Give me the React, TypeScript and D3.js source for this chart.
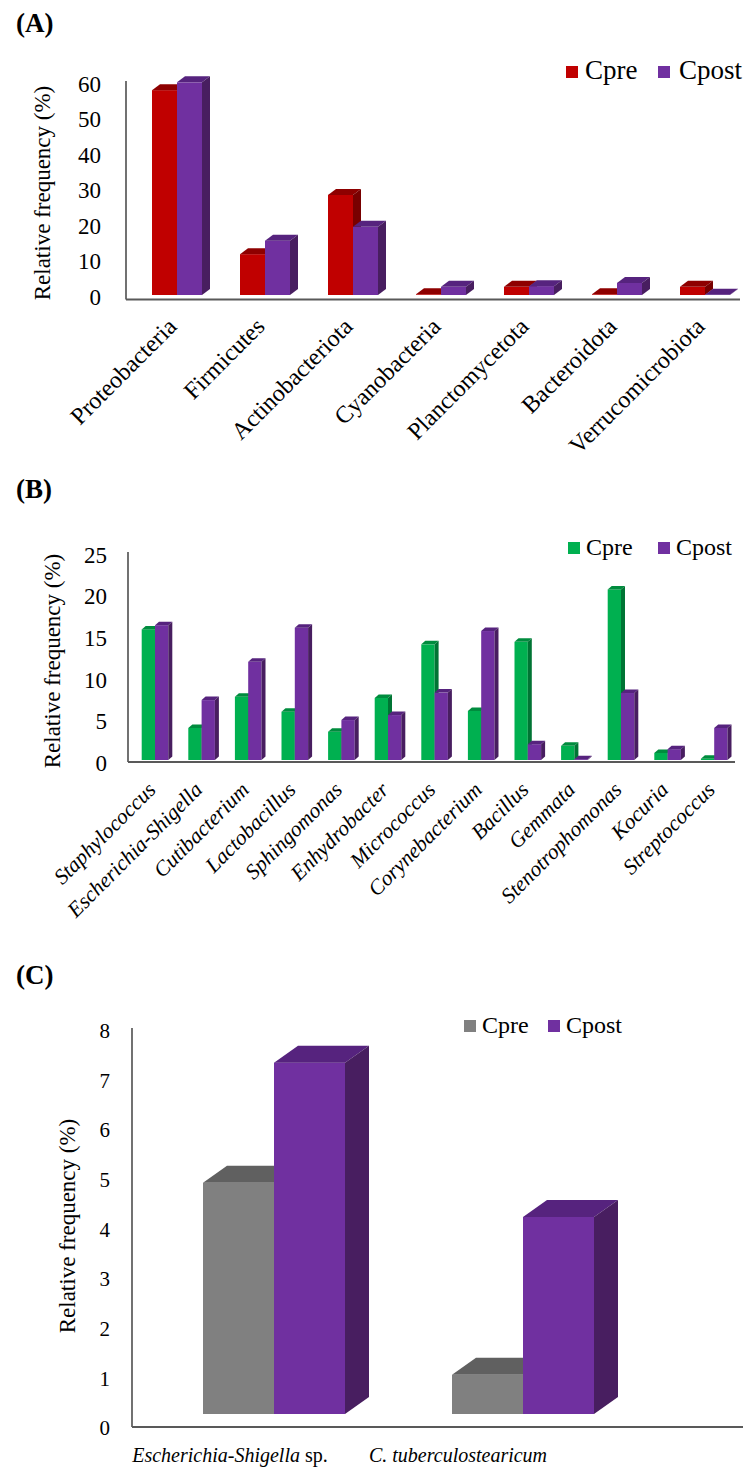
import React from 'react';
import * as d3 from 'd3';

// ---------- DATA ----------
const seriesNames = ['Cpre', 'Cpost'];

const phylaCategories = ['Proteobacteria', 'Firmicutes', 'Actinobacteriota', 'Cyanobacteria', 'Planctomycetota', 'Bacteroidota', 'Verrucomicrobiota'];
const phylaCpre = [57.7, 11.5, 28.2, 0.2, 2.3, 0.2, 2.3];
const phylaCpost = [59.9, 15.3, 19.2, 2.3, 2.5, 3.4, 0.1];
const phylaTicks = [0, 10, 20, 30, 40, 50, 60];

const generaCategories = ['Staphylococcus', 'Escherichia-Shigella', 'Cutibacterium', 'Lactobacillus', 'Sphingomonas', 'Enhydrobacter', 'Micrococcus', 'Corynebacterium', 'Bacillus', 'Gemmata', 'Stenotrophomonas', 'Kocuria', 'Streptococcus'];
const generaCpre = [15.7, 3.85, 7.6, 5.8, 3.4, 7.45, 13.9, 5.9, 14.2, 1.7, 20.5, 0.85, 0.15];
const generaCpost = [16.2, 7.2, 11.8, 15.9, 4.8, 5.4, 8.1, 15.5, 1.9, 0.1, 8.05, 1.3, 3.85];
const generaTicks = [0, 5, 10, 15, 20, 25];

const speciesCategories = ['Escherichia-Shigella sp.', 'C. tuberculostearicum'];
const speciesCpre = [4.66, 0.79];
const speciesCpost = [7.08, 3.97];
const speciesTicks = [0, 1, 2, 3, 4, 5, 6, 7, 8];

// ---------- STYLE ----------
const FONT = 'Liberation Serif, DejaVu Serif, serif';
const PURPLE = { front: '#7030A0', top: '#56237E', side: '#481E60' };
const RED = { front: '#C00000', top: '#8E0000', side: '#780000' };
const GREEN = { front: '#00B050', top: '#008C3E', side: '#007434' };
const GRAY = { front: '#808080', top: '#606060', side: '#555555' };

type Shade = { front: string; top: string; side: string };

function Bar3D({ x, w, yTop, yBase, dx, dy, c }: { x: number; w: number; yTop: number; yBase: number; dx: number; dy: number; c: Shade }) {
  const t = Math.min(yTop, yBase);
  return (
    <g>
      {yBase - t > 0 && <rect x={x} y={t} width={w} height={yBase - t} fill={c.front} />}
      <polygon points={`${x},${t} ${x + dx},${t + dy} ${x + w + dx},${t + dy} ${x + w},${t}`} fill={c.top} />
      <polygon points={`${x + w},${t} ${x + w + dx},${t + dy} ${x + w + dx},${yBase + dy} ${x + w},${yBase}`} fill={c.side} />
    </g>
  );
}

function CatLabel({ name, x, y, size, rotate, italic }: any) {
  const spIdx = name.endsWith(' sp.') ? name.length - 4 : -1;
  const content = spIdx >= 0 ? (
    <>
      <tspan style={{ fontStyle: 'italic' }}>{name.slice(0, spIdx)}</tspan>
      <tspan style={{ fontStyle: 'normal' }}>{name.slice(spIdx)}</tspan>
    </>
  ) : name;
  return (
    <text
      x={0}
      y={0}
      transform={`translate(${x},${y}) rotate(${rotate})`}
      textAnchor={rotate ? 'end' : 'middle'}
      style={{ fontFamily: FONT, fontSize: size, fontStyle: italic ? 'italic' : 'normal' }}
      fill="#000"
    >
      {content}
    </text>
  );
}

function Panel(p: any) {
  const y = d3.scaleLinear().domain([0, p.ticks[p.ticks.length - 1]]).range(p.yRange);
  const x = d3.scaleBand<string>().domain(p.categories).range(p.xRange).padding(0);
  const lx = d3.scaleBand<string>().domain(p.categories).range(p.labelRange || p.xRange).padding(0);
  const base = y(0) - p.gap;
  const colors = [p.preColor, PURPLE];
  const vals = [p.pre, p.post];
  return (
    <g>
      <text x={p.titleX} y={p.titleY} style={{ fontFamily: FONT, fontWeight: 'bold', fontSize: 27 }}>{p.title}</text>
      <line x1={p.yAxisX} x2={p.yAxisX} y1={p.yAxisTop} y2={p.xAxisY} stroke="#262626" strokeWidth={1.3} />
      <line x1={p.yAxisX} x2={p.xAxisRight} y1={p.xAxisY} y2={p.xAxisY} stroke="#595959" strokeWidth={2} />
      {p.ticks.map((t: number) => (
        <text key={t} x={p.tickX} y={y(t)} dy="0.34em" textAnchor="end" style={{ fontFamily: FONT, fontSize: p.tickSize }}>{t}</text>
      ))}
      <text transform={`translate(${p.yTitleX},${p.yTitleY}) rotate(-90)`} textAnchor="middle" dy="0.34em" style={{ fontFamily: FONT, fontSize: 23 }}>Relative frequency (%)</text>
      {p.categories.map((cat: string, i: number) => {
        const cx = (x(cat) as number) + x.bandwidth() / 2;
        return (
          <g key={cat}>
            {[0, 1].map((s) => (
              <Bar3D key={s} x={cx - p.barW + s * p.barW} w={p.barW} yTop={y(vals[s][i]) - p.gap} yBase={base} dx={p.dx} dy={p.dy} c={colors[s]} />
            ))}
          </g>
        );
      })}
      {p.categories.map((cat: string) => {
        const cx = (lx(cat) as number) + lx.bandwidth() / 2;
        return <CatLabel key={cat} name={cat} x={cx + p.labelDX} y={p.labelY} size={p.labelSize} rotate={p.labelRotate} italic={p.italic} />;
      })}
      {seriesNames.map((n, s) => (
        <g key={n}>
          <rect x={p.legend[s][0]} y={p.legendY - 13} width={12} height={12} fill={colors[s].front} />
          <text x={p.legend[s][1]} y={p.legendY} style={{ fontFamily: FONT, fontSize: p.legendSize }}>{n}</text>
        </g>
      ))}
    </g>
  );
}

export default function App() {
  return (
    <svg width={745} height={1468} style={{ position: 'absolute', left: 0, top: 0, background: '#fff' }}>
      <rect width={745} height={1468} fill="#fff" />
      <Panel
        title="(A)" titleX={16} titleY={32}
        categories={phylaCategories} pre={phylaCpre} post={phylaCpost} ticks={phylaTicks} preColor={RED}
        yRange={[297, 84]} gap={2} xRange={[133, 749]} barW={25} dx={8} dy={-6}
        yAxisX={126} yAxisTop={81} xAxisY={299.5} xAxisRight={740}
        tickX={101} tickSize={23} yTitleX={42} yTitleY={193}
        labelDX={1} labelY={328} labelSize={24} labelRotate={-45} italic={false}
        legend={[[566, 585], [658, 679]]} legendY={79} legendSize={27}
      />
      <Panel
        title="(B)" titleX={16} titleY={498}
        categories={generaCategories} pre={generaCpre} post={generaCpost} ticks={generaTicks} preColor={GREEN}
        yRange={[763, 555]} gap={3} xRange={[131.7, 737.5]} barW={13.3} dx={4} dy={-3.5}
        yAxisX={128} yAxisTop={552} xAxisY={762} xAxisRight={735}
        tickX={107} tickSize={23} yTitleX={52} yTitleY={661}
        labelDX={2} labelY={791} labelSize={21.5} labelRotate={-45} italic={true}
        legend={[[568, 586], [658, 676]]} legendY={555} legendSize={24}
      />
      <Panel
        title="(C)" titleX={16} titleY={984}
        categories={speciesCategories} pre={speciesCpre} post={speciesCpost} ticks={speciesTicks} preColor={GRAY}
        yRange={[1428, 1031]} gap={14} xRange={[149.5, 647.5]} labelRange={[116, 572]} barW={71} dx={24} dy={-17}
        yAxisX={132} yAxisTop={1028} xAxisY={1427} xAxisRight={743}
        tickX={110} tickSize={21} yTitleX={67} yTitleY={1226}
        labelDX={0} labelY={1462} labelSize={20} labelRotate={0} italic={true}
        legend={[[464, 482], [548, 566]]} legendY={1033} legendSize={24}
      />
    </svg>
  );
}
